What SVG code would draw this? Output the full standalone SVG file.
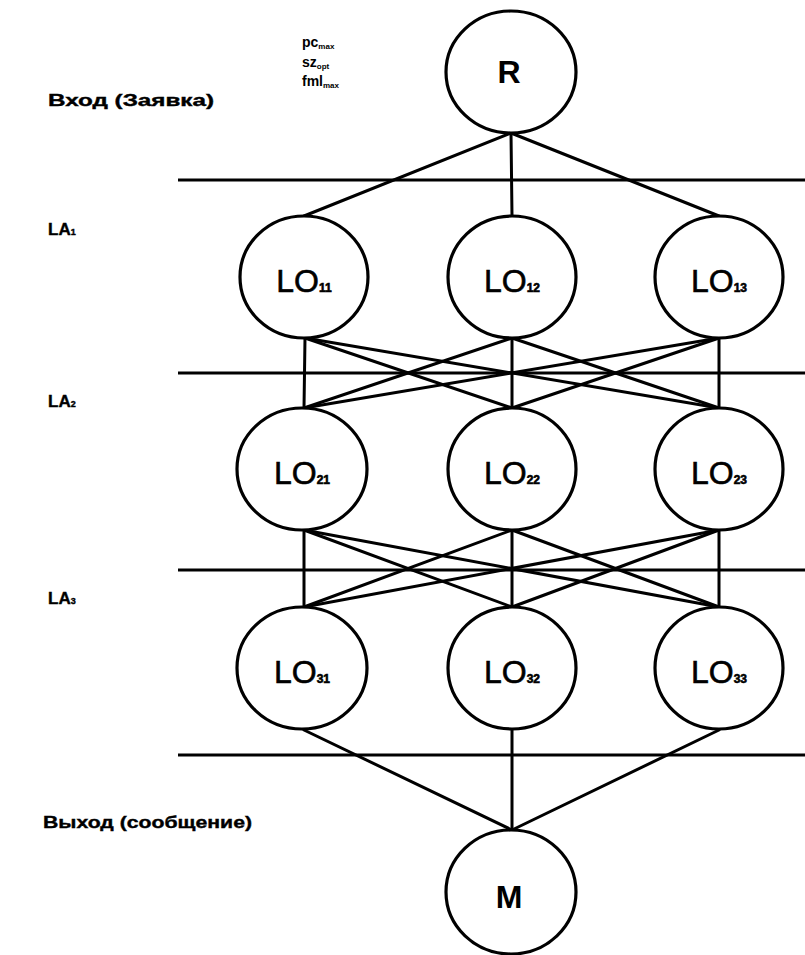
<svg xmlns="http://www.w3.org/2000/svg" width="805" height="955" viewBox="0 0 805 955">
<style>
.node ellipse{fill:#fff;stroke:#000;stroke-width:3.2}
.conn line{stroke:#000;stroke-width:3;stroke-linecap:round}
.lay line{stroke:#000;stroke-width:2.8}
.lo{font-family:"Liberation Sans",Arial,sans-serif;font-size:32px;fill:#000;text-anchor:middle;stroke:#000;stroke-width:0.6}
.sub{font-size:12px;font-weight:bold}
.big{font-family:"Liberation Sans",Arial,sans-serif;font-size:32px;font-weight:bold;fill:#000;text-anchor:middle}
.lbl{font-family:"Liberation Sans",Arial,sans-serif;font-size:17px;font-weight:bold;fill:#000;stroke:#000;stroke-width:0.4}
.sm{font-family:"Liberation Sans",Arial,sans-serif;font-size:14px;font-weight:bold;fill:#000}
</style>
<rect width="805" height="955" fill="#fff"/>
<g class="lay">
<line x1="178" y1="180" x2="805" y2="180"/>
<line x1="178" y1="373" x2="805" y2="373"/>
<line x1="178" y1="570" x2="805" y2="570"/>
<line x1="178" y1="755" x2="805" y2="755"/>
</g>
<g class="conn">
<line x1="511" y1="133" x2="304" y2="216"/>
<line x1="511" y1="133" x2="512" y2="216"/>
<line x1="511" y1="133" x2="719" y2="216"/>
<line x1="305" y1="338" x2="304" y2="408"/>
<line x1="305" y1="338" x2="512" y2="408"/>
<line x1="305" y1="338" x2="719" y2="408"/>
<line x1="512" y1="338" x2="304" y2="408"/>
<line x1="512" y1="338" x2="512" y2="408"/>
<line x1="512" y1="338" x2="719" y2="408"/>
<line x1="719" y1="338" x2="304" y2="408"/>
<line x1="719" y1="338" x2="512" y2="408"/>
<line x1="719" y1="338" x2="719" y2="408"/>
<line x1="304" y1="530" x2="304" y2="607"/>
<line x1="304" y1="530" x2="512" y2="607"/>
<line x1="304" y1="530" x2="719" y2="607"/>
<line x1="512" y1="530" x2="304" y2="607"/>
<line x1="512" y1="530" x2="512" y2="607"/>
<line x1="512" y1="530" x2="719" y2="607"/>
<line x1="719" y1="530" x2="304" y2="607"/>
<line x1="719" y1="530" x2="512" y2="607"/>
<line x1="719" y1="530" x2="719" y2="607"/>
<line x1="304" y1="730" x2="512" y2="830"/>
<line x1="512" y1="730" x2="512" y2="830"/>
<line x1="719" y1="730" x2="512" y2="830"/>
</g>
<g id="R" class="node"><ellipse cx="511" cy="72" rx="65" ry="61"/><text class="big" x="509" y="83">R</text></g>
<g id="LO11" class="node"><ellipse cx="304" cy="277" rx="64" ry="61"/><text class="lo" x="304" y="292">LO<tspan class="sub">11</tspan></text></g>
<g id="LO12" class="node"><ellipse cx="512" cy="277" rx="64" ry="61"/><text class="lo" x="512" y="292">LO<tspan class="sub">12</tspan></text></g>
<g id="LO13" class="node"><ellipse cx="719" cy="277" rx="64" ry="61"/><text class="lo" x="719" y="292">LO<tspan class="sub">13</tspan></text></g>
<g id="LO21" class="node"><ellipse cx="302" cy="469" rx="65" ry="61"/><text class="lo" x="302" y="484">LO<tspan class="sub">21</tspan></text></g>
<g id="LO22" class="node"><ellipse cx="512" cy="469" rx="64" ry="61"/><text class="lo" x="512" y="484">LO<tspan class="sub">22</tspan></text></g>
<g id="LO23" class="node"><ellipse cx="719" cy="469" rx="64" ry="61"/><text class="lo" x="719" y="484">LO<tspan class="sub">23</tspan></text></g>
<g id="LO31" class="node"><ellipse cx="302" cy="668" rx="65" ry="61"/><text class="lo" x="302" y="683">LO<tspan class="sub">31</tspan></text></g>
<g id="LO32" class="node"><ellipse cx="512" cy="668" rx="64" ry="61"/><text class="lo" x="512" y="683">LO<tspan class="sub">32</tspan></text></g>
<g id="LO33" class="node"><ellipse cx="719" cy="668" rx="64" ry="61"/><text class="lo" x="719" y="683">LO<tspan class="sub">33</tspan></text></g>
<g id="M" class="node"><ellipse cx="511" cy="892" rx="65" ry="62"/><text class="big" x="509" y="908">M</text></g>
<g id="labels">
<text class="lbl" x="48" y="106" textLength="166" lengthAdjust="spacingAndGlyphs">Вход (Заявка)</text>
<text class="sm" x="302" y="47">pc<tspan font-size="8" dy="2">max</tspan></text>
<text class="sm" x="302" y="67">sz<tspan font-size="8" dy="2">opt</tspan></text>
<text class="sm" x="302" y="86">fml<tspan font-size="8" dy="2">max</tspan></text>
<text class="lbl" x="48" y="235">LA<tspan font-size="9">1</tspan></text>
<text class="lbl" x="48" y="407">LA<tspan font-size="9">2</tspan></text>
<text class="lbl" x="48" y="604">LA<tspan font-size="9">3</tspan></text>
<text class="lbl" x="43" y="828" textLength="209" lengthAdjust="spacingAndGlyphs">Выход (сообщение)</text>
</g>
</svg>
